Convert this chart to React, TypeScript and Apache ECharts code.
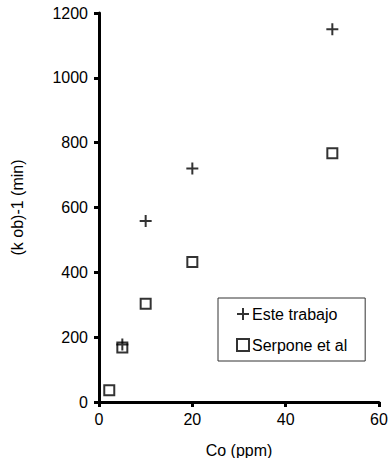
import React, { useEffect, useRef } from "react";
import * as echarts from "echarts";

const seriesNames = ["Este trabajo", "Serpone et al"];
const esteX = [5, 10, 20, 50];
const esteY = [177, 558, 720, 1150];
const serponeX = [2.2, 5, 10, 20, 50];
const serponeY = [36, 168, 303, 432, 767];
const xTicks = { min: 0, max: 60, interval: 20 };
const yTicks = { min: 0, max: 1200, interval: 200 };

const PLUS = "path://M5,0 H7 V5 H12 V7 H7 V12 H5 V7 H0 V5 H5 Z";
const FONT = "Liberation Sans, Arial, sans-serif";

export default function App() {
  const ref = useRef<HTMLDivElement>(null);
  useEffect(() => {
    document.body.style.margin = "0";
    const chart = echarts.init(ref.current!, null, { renderer: "svg" });
    const axisCommon = {
      axisLine: { show: true, onZero: false, lineStyle: { color: "#000", width: 3 } },
      axisTick: { show: true, inside: false, length: 5, lineStyle: { color: "#000", width: 3 } },
      splitLine: { show: false },
      axisLabel: { color: "#000", fontSize: 16, fontFamily: FONT, formatter: (v: number) => String(v) },
      nameTextStyle: { color: "#000", fontSize: 16, fontFamily: FONT },
    };
    chart.setOption({
      animation: false,
      backgroundColor: "#fff",
      grid: { left: 99, right: 10, top: 13, bottom: 56, containLabel: false, outerBoundsMode: "none" },
      xAxis: {
        type: "value",
        ...xTicks,
        ...axisCommon,
        axisLabel: { ...axisCommon.axisLabel, margin: 9 },
        name: "Co (ppm)",
        nameLocation: "middle",
        nameGap: 40,
      },
      yAxis: {
        type: "value",
        ...yTicks,
        ...axisCommon,
        axisLabel: { ...axisCommon.axisLabel, margin: 11 },
        name: "(k ob)-1 (min)",
        nameLocation: "middle",
        nameGap: 74,
      },
      legend: {
        orient: "vertical",
        left: 218,
        top: 298,
        padding: [8, 18, 8, 18],
        itemGap: 15,
        itemWidth: 12,
        itemHeight: 12,
        borderColor: "#333",
        borderWidth: 1,
        textStyle: { color: "#000", fontSize: 16, fontFamily: FONT, padding: [0, 0, 0, -2] },
        data: [
          { name: seriesNames[0], icon: PLUS },
          { name: seriesNames[1], icon: "rect" },
        ],
      },
      series: [
        {
          name: seriesNames[0],
          type: "scatter",
          symbol: PLUS,
          symbolSize: 12,
          itemStyle: { color: "#000" },
          data: esteX.map((x, i) => [x, esteY[i]]),
          z: 3,
        },
        {
          name: seriesNames[1],
          type: "scatter",
          symbol: "rect",
          symbolSize: 10,
          itemStyle: { color: "#fff", borderColor: "#000", borderWidth: 2 },
          data: serponeX.map((x, i) => [x, serponeY[i]]),
          z: 2,
        },
      ],
    });
    return () => chart.dispose();
  }, []);
  return <div ref={ref} style={{ width: 389, height: 458 }} />;
}
